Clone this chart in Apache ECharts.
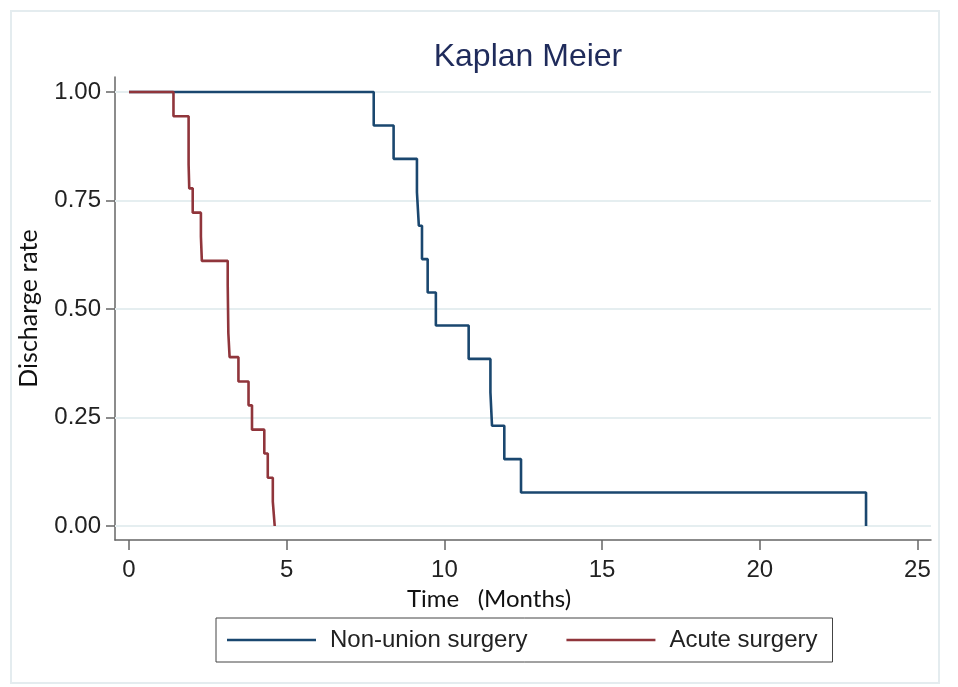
<!DOCTYPE html>
<html>
<head>
<meta charset="utf-8">
<title>Kaplan Meier</title>
<script src="https://cdn.jsdelivr.net/npm/echarts@6/dist/echarts.min.js"></script>
<style>
  html, body { margin: 0; padding: 0; background: #fff; }
  #main { width: 958px; height: 687px; }
</style>
</head>
<body>
<div id="main"></div>
<script>
// survival curves: [time in months, discharge rate]
var nonUnionTimes = [0, 7.76, 8.39, 9.13, 9.19, 9.29, 9.47, 9.73, 10.77, 11.46, 11.51, 11.90, 12.43, 23.37];
var nonUnionRates = [1, 0.923, 0.846, 0.769, 0.692, 0.615, 0.538, 0.462, 0.385, 0.308, 0.231, 0.154, 0.077, 0];
var acuteTimes = [0, 1.41, 1.89, 1.91, 2.02, 2.28, 2.31, 3.13, 3.15, 3.19, 3.47, 3.79, 3.90, 4.29, 4.40, 4.56, 4.62];
var acuteRates = [1, 0.944, 0.833, 0.778, 0.722, 0.667, 0.611, 0.556, 0.444, 0.389, 0.333, 0.278, 0.222, 0.167, 0.111, 0.056, 0];
var xTicks = [0, 5, 10, 15, 20, 25];
var yTicks = [0, 0.25, 0.5, 0.75, 1];
var seriesNames = ['Non-union surgery', 'Acute surgery'];

function pairs(xs, ys) {
  return xs.map(function (x, i) { return [x, ys[i]]; });
}

var myChart = echarts.init(document.getElementById('main'));

var option = {
  backgroundColor: '#fff',
  animation: false,
  title: {
    text: 'Kaplan Meier',
    left: 523,
    top: 36,
    textAlign: 'center',
    textStyle: { fontFamily: 'Liberation Sans, Arial', fontSize: 32, fontWeight: 'normal', color: '#1f2b5b' }
  },
  graphic: [{
    type: 'rect',
    shape: { x: 11, y: 11, width: 928, height: 672 },
    style: { fill: 'none', stroke: '#e4ecef', lineWidth: 2 },
    silent: true
  }],
  grid: { left: 115, right: 27, top: 77, bottom: 147, containLabel: false, outerBoundsMode: 'none' },
  legend: {
    data: seriesNames,
    left: 216,
    top: 618,
    orient: 'horizontal',
    icon: 'rect',
    itemWidth: 89,
    itemHeight: 2.5,
    itemGap: 39,
    padding: [10, 15, 10, 11],
    borderColor: '#444',
    borderWidth: 1,
    textStyle: { fontFamily: 'Liberation Sans, Arial', fontSize: 24, color: '#222', padding: [0, 0, 0, 9] }
  },
  xAxis: {
    type: 'value',
    min: -0.444,
    max: 25.43,
    name: 'Time   (Months)',
    nameLocation: 'middle',
    nameGap: 32,
    nameTextStyle: { fontFamily: 'Lato', fontSize: 24, color: '#111', padding: [0, 68, 0, 0] },
    axisLine: { show: true, onZero: false, lineStyle: { color: '#666', width: 1.5 } },
    axisTick: { show: true, length: 10, customValues: xTicks, lineStyle: { color: '#666', width: 1.5 } },
    axisLabel: { customValues: xTicks, margin: 18, fontFamily: 'Liberation Sans, Arial', fontSize: 24, color: '#222' },
    splitLine: { show: false }
  },
  yAxis: {
    type: 'value',
    min: -0.0323,
    max: 1.0346,
    name: 'Discharge rate',
    nameLocation: 'middle',
    nameRotate: 90,
    nameGap: 74,
    nameTextStyle: { fontFamily: 'Lato', fontSize: 25, color: '#111' },
    axisLine: { show: true, onZero: false, lineStyle: { color: '#666', width: 1.5 } },
    axisTick: { show: true, length: 9, customValues: yTicks, lineStyle: { color: '#666', width: 1.5 } },
    axisLabel: {
      customValues: yTicks, margin: 14, fontFamily: 'Liberation Sans, Arial', fontSize: 24, color: '#222',
      formatter: function (v) { return v.toFixed(2); }
    },
    splitLine: { show: false }
  },
  series: [
    {
      name: 'gridlines',
      type: 'line',
      data: [],
      z: 1,
      silent: true,
      markLine: {
        silent: true,
        z: 1,
        symbol: ['none', 'none'],
        label: { show: false },
        lineStyle: { color: '#e5eef0', width: 2, type: 'solid' },
        data: yTicks.map(function (v) { return { yAxis: v }; })
      }
    },
    {
      name: seriesNames[0],
      type: 'line',
      step: 'end',
      z: 10,
      showSymbol: false,
      data: pairs(nonUnionTimes, nonUnionRates),
      itemStyle: { color: '#1a476f' },
      lineStyle: { color: '#1a476f', width: 2.6 }
    },
    {
      name: seriesNames[1],
      type: 'line',
      step: 'end',
      z: 11,
      showSymbol: false,
      data: pairs(acuteTimes, acuteRates),
      itemStyle: { color: '#90353b' },
      lineStyle: { color: '#90353b', width: 2.6 }
    }
  ]
};

myChart.setOption(option);
</script>
</body>
</html>
